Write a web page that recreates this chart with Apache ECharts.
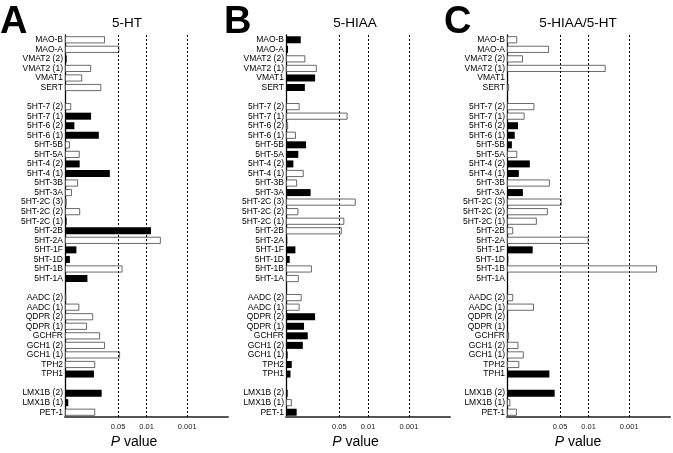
<!DOCTYPE html>
<html>
<head>
<meta charset="utf-8">
<script src="https://cdn.jsdelivr.net/npm/echarts@6/dist/echarts.min.js"></script>
<style>
html,body{margin:0;padding:0;background:#fff;}
#chart{width:673px;height:453px;}
</style>
</head>
<body>
<div id="chart"></div>
<script>
// Gene categories, top to bottom (whitespace entries are the blank separator rows)
const categories = ['MAO-B','MAO-A','VMAT2 (2)','VMAT2 (1)','VMAT1','SERT',' ',
  '5HT-7 (2)','5HT-7 (1)','5HT-6 (2)','5HT-6 (1)','5HT-5B','5HT-5A','5HT-4 (2)','5HT-4 (1)',
  '5HT-3B','5HT-3A','5HT-2C (3)','5HT-2C (2)','5HT-2C (1)','5HT-2B','5HT-2A','5HT-1F','5HT-1D',
  '5HT-1B','5HT-1A','  ',
  'AADC (2)','AADC (1)','QDPR (2)','QDPR (1)','GCHFR','GCH1 (2)','GCH1 (1)','TPH2','TPH1','   ',
  'LMX1B (2)','LMX1B (1)','PET-1'];

// Signed -log10(P): positive = positive correlation (filled bar), negative = negative (open bar)
const valuesHT = [-0.98,-1.33,0.04,-0.64,-0.42,-0.89,null,
  -0.15,0.64,0.23,0.83,-0.12,-0.36,0.36,1.10,
  -0.32,-0.17,-0.04,-0.37,0.04,2.11,-2.35,0.28,0.12,
  -1.41,0.55,null,
  -0.03,-0.35,-0.69,-0.54,-0.86,-0.98,-1.35,-0.74,0.71,null,
  0.90,0.08,-0.74];

const valuesHIAA = [0.36,0.05,-0.47,-0.75,0.71,0.46,null,
  -0.33,-1.50,-0.05,-0.24,0.49,0.30,0.18,-0.43,
  -0.27,0.60,-1.70,-0.30,-1.42,-1.36,0.03,0.23,0.09,
  -0.63,-0.31,null,
  -0.38,-0.33,0.71,0.44,0.53,0.41,0.04,0.14,0.11,null,
  0.04,-0.14,0.26];

const valuesRatio = [-0.25,-1.03,-0.39,-2.42,0,-0.05,null,
  -0.67,-0.43,0.27,0.19,0.12,-0.25,0.56,0.29,
  -1.05,0.39,-1.34,-1.00,-0.73,-0.15,-2.00,0.63,0.03,
  -3.68,0,null,
  -0.15,-0.66,0.025,0,-0.05,-0.28,-0.41,-0.30,1.04,null,
  1.17,-0.08,-0.24];

const pTicks = [0.05, 0.01, 0.001];
const pTickLabels = ['0.05', '0.01', '0.001'];
const panelTitles = ['5-HT', '5-HIAA', '5-HIAA/5-HT'];
const panelLetters = ['A', 'B', 'C'];
const panelValues = [valuesHT, valuesHIAA, valuesRatio];

const FONT = '"Liberation Sans", Arial, Helvetica, sans-serif';
const grids = [
  {left: 65, top: 35, width: 163, height: 382},
  {left: 286, top: 35, width: 164, height: 382},
  {left: 507, top: 35, width: 163, height: 382}
];
const titleX = [127, 355, 578];
const nameX = [134, 355.5, 578];
const letterX = [0, 224, 444];

const tickPos = pTicks.map(p => -Math.log10(p));

const option = {
  animation: false,
  backgroundColor: '#fff',
  grid: grids.map(g => Object.assign({containLabel: false}, g)),
  xAxis: grids.map((g, i) => ({
    type: 'value', gridIndex: i, min: 0, max: 4,
    axisLine: {show: true, lineStyle: {color: '#555', width: 2}},
    axisTick: {show: false},
    splitLine: {show: false},
    axisLabel: {
      show: true,
      customValues: tickPos,
      formatter: v => {
        for (let k = 0; k < tickPos.length; k++) if (Math.abs(tickPos[k] - v) < 1e-6) return pTickLabels[k];
        return '';
      },
      fontSize: 7.5, color: '#222', margin: 6, fontFamily: FONT
    }
  })),
  yAxis: grids.map((g, i) => ({
    type: 'category', gridIndex: i, inverse: true, data: categories,
    boundaryGap: true,
    axisLine: {show: true, lineStyle: {color: '#000', width: 1.3}},
    axisTick: {show: false},
    splitLine: {show: false},
    axisLabel: {interval: 0, fontSize: 8.5, color: '#000', margin: 2, fontFamily: FONT}
  })),
  series: [],
  graphic: []
};

panelValues.forEach((vals, i) => {
  const filled = vals.map(v => (v != null && v > 0) ? v : null);
  const open = vals.map(v => (v != null && v < 0) ? -v : null);
  option.series.push({
    type: 'bar', xAxisIndex: i, yAxisIndex: i, data: filled,
    barWidth: 7, barGap: '-100%',
    itemStyle: {color: '#000'},
    markLine: {
      silent: true, symbol: ['none', 'none'], label: {show: false},
      lineStyle: {type: [2, 2], color: '#000', width: 1},
      data: tickPos.map(t => ({xAxis: t}))
    }
  });
  option.series.push({
    type: 'bar', xAxisIndex: i, yAxisIndex: i, data: open,
    barWidth: 7, barGap: '-100%',
    itemStyle: {color: '#fff', borderColor: '#444', borderWidth: 0.8}
  });
  option.graphic.push({
    type: 'text', x: letterX[i], y: 23,
    style: {text: panelLetters[i], font: 'bold 38px ' + FONT, fill: '#000', textAlign: 'left', textVerticalAlign: 'middle'}
  });
  option.graphic.push({
    type: 'text', x: titleX[i], y: 23.5,
    style: {text: panelTitles[i], font: '13.5px ' + FONT, fill: '#000', textAlign: 'center', textVerticalAlign: 'middle'}
  });
  option.graphic.push({
    type: 'text', x: nameX[i], y: 442,
    style: {text: '{i|P} value', font: '14px ' + FONT, fill: '#000', textAlign: 'center', textVerticalAlign: 'middle',
      rich: {i: {fontStyle: 'italic', fontSize: 14, fontFamily: FONT}}}
  });
});

const chart = echarts.init(document.getElementById('chart'), null, {renderer: 'canvas'});
chart.setOption(option);
</script>
</body>
</html>
